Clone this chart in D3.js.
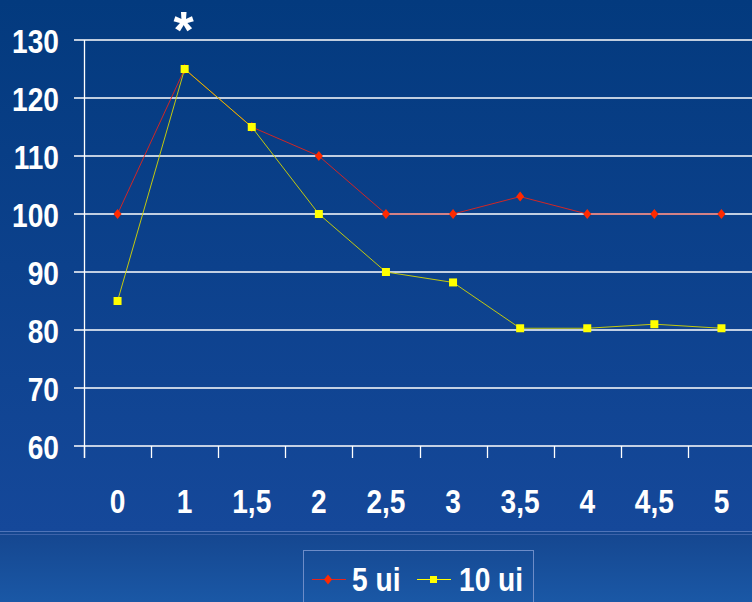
<!DOCTYPE html>
<html>
<head>
<meta charset="utf-8">
<script src="https://cdn.jsdelivr.net/npm/d3@7"></script>
<style>
  body { margin: 0; background: #0b4089; }
  svg { display: block; }
  .lbl text { fill: #fff; font-family: "Liberation Sans", Arial, sans-serif; font-weight: bold; font-size: 33.5px; }
  .lbl path.domain { display: none; }
</style>
</head>
<body>
<div id="chart"></div>
<script>
const categories = ["0", "1", "1,5", "2", "2,5", "3", "3,5", "4", "4,5", "5"]
const ui5 = [100, 125, 115, 110, 100, 100, 103, 100, 100, 100]
const ui10 = [85, 125, 115, 100, 90, 88.2, 80.3, 80.3, 81, 80.3]
const yTicks = [60, 70, 80, 90, 100, 110, 120, 130]
const seriesNames = ["5 ui", "10 ui"]

const W = 752, H = 602
const plot = {left: 84, right: 755, top: 40, bottom: 446}
// labels are in a narrow bold face, squeeze the text horizontally
const squeeze = 0.84

const svg = d3.select("#chart").append("svg")
  .attr("width", W)
  .attr("height", H)

// background
const defs = svg.append("defs")
const g1 = defs.append("linearGradient").attr("id", "bg1").attr("x1", 0).attr("x2", 0).attr("y1", 0).attr("y2", 1)
g1.append("stop").attr("offset", "0%").attr("stop-color", "#033a7e")
g1.append("stop").attr("offset", "100%").attr("stop-color", "#15489a")
const g2 = defs.append("linearGradient").attr("id", "bg2").attr("x1", 0).attr("x2", 0).attr("y1", 0).attr("y2", 1)
g2.append("stop").attr("offset", "0%").attr("stop-color", "#15468f")
g2.append("stop").attr("offset", "100%").attr("stop-color", "#1a58a6")

svg.append("rect").attr("width", W).attr("height", 531).attr("fill", "url(#bg1)")
svg.append("rect").attr("y", 531).attr("width", W).attr("height", H - 531).attr("fill", "url(#bg2)")
svg.append("line").attr("x1", 0).attr("x2", W).attr("y1", 531.5).attr("y2", 531.5).attr("stroke", "#4f74b8").attr("stroke-width", 1)
svg.append("line").attr("x1", 0).attr("x2", W).attr("y1", 534.5).attr("y2", 534.5).attr("stroke", "#3d63aa").attr("stroke-width", 1)

// scales
const x = d3.scaleBand().domain(categories).range([plot.left, plot.right]).padding(0)
const y = d3.scaleLinear().domain([60, 130]).range([plot.bottom, plot.top])

// gridlines
svg.append("g").selectAll("line")
  .data(yTicks)
  .enter().append("line")
  .attr("x1", plot.left - 10)
  .attr("x2", W)
  .attr("y1", d => y(d))
  .attr("y2", d => y(d))
  .attr("stroke", "#fff")
  .attr("stroke-width", 1.4)

// y axis line
svg.append("line")
  .attr("x1", plot.left + 0.5).attr("x2", plot.left + 0.5)
  .attr("y1", plot.top).attr("y2", plot.bottom + 12)
  .attr("stroke", "#fff").attr("stroke-width", 1.3)

// x ticks at category boundaries
svg.append("g").selectAll("line")
  .data(categories)
  .enter().append("line")
  .attr("x1", d => Math.round(x(d)) + 0.5)
  .attr("x2", d => Math.round(x(d)) + 0.5)
  .attr("y1", plot.bottom)
  .attr("y2", plot.bottom + 12)
  .attr("stroke", "#fff")
  .attr("stroke-width", 1.3)

// labels
const yAx = svg.append("g")
  .attr("class", "lbl")
  .attr("transform", "translate(" + plot.left + ",0)")
  .call(d3.axisLeft(y).tickValues(yTicks).tickSize(0).tickPadding(25))
yAx.selectAll("line").remove()
yAx.selectAll("text")
  .attr("x", -25 / squeeze)
  .attr("dy", "0.36em")
  .attr("transform", "scale(" + squeeze + ",1)")

const xAx = svg.append("g")
  .attr("class", "lbl")
  .attr("transform", "translate(0," + plot.bottom + ")")
  .call(d3.axisBottom(x).tickSize(0).tickPadding(43))
xAx.selectAll("line").remove()
xAx.selectAll("text")
  .attr("transform", "scale(" + squeeze + ",1)")

const cx = (d, i) => x(categories[i]) + x.bandwidth() / 2

const line = d3.line()
  .x((d, i) => cx(d, i))
  .y(d => y(d))

// 5 ui
svg.append("path")
  .datum(ui5)
  .attr("d", line)
  .attr("fill", "none")
  .attr("stroke", "#e8241a")
  .attr("stroke-width", 0.9)

svg.append("g").selectAll("path")
  .data(ui5)
  .enter().append("path")
  .attr("d", "M0,-5L4,0L0,5L-4,0Z")
  .attr("transform", (d, i) => "translate(" + cx(d, i) + "," + y(d) + ")")
  .attr("fill", "#ff2a00")

// 10 ui
svg.append("path")
  .datum(ui10)
  .attr("d", line)
  .attr("fill", "none")
  .attr("stroke", "#d8d800")
  .attr("stroke-width", 0.9)

svg.append("g").selectAll("rect")
  .data(ui10)
  .enter().append("rect")
  .attr("x", (d, i) => cx(d, i) - 4)
  .attr("y", d => y(d) - 4)
  .attr("width", 8)
  .attr("height", 8)
  .attr("fill", "#ffff00")

// asterisk
svg.append("text")
  .attr("x", cx(ui5[1], 1) - 1)
  .attr("y", 48)
  .attr("text-anchor", "middle")
  .attr("fill", "#fff")
  .style("font-family", "Liberation Sans, Arial, sans-serif")
  .style("font-weight", "bold")
  .style("font-size", "52px")
  .text("*")

// legend
const legend = svg.append("g")
legend.append("rect")
  .attr("x", 303.5).attr("y", 550.5)
  .attr("width", 230).attr("height", 70)
  .attr("fill", "none")
  .attr("stroke", "#6d8cc8")
  .attr("stroke-width", 1)

const lg = [
  {name: seriesNames[0], x: 312, color: "#e8241a", mark: "diamond", tx: 352},
  {name: seriesNames[1], x: 417, color: "#ffff00", mark: "square", tx: 459}
]
lg.forEach(d => {
  legend.append("line")
    .attr("x1", d.x).attr("x2", d.x + 34)
    .attr("y1", 579.5).attr("y2", 579.5)
    .attr("stroke", d.color).attr("stroke-width", 1)
  if (d.mark == "diamond") {
    legend.append("path")
      .attr("d", "M0,-5L4,0L0,5L-4,0Z")
      .attr("transform", "translate(" + (d.x + 16) + ",579.5)")
      .attr("fill", "#ff2a00")
  } else {
    legend.append("rect")
      .attr("x", d.x + 13).attr("y", 576)
      .attr("width", 7).attr("height", 7)
      .attr("fill", "#ffff00")
  }
  legend.append("text")
    .attr("x", d.tx / squeeze)
    .attr("y", 591)
    .attr("transform", "scale(" + squeeze + ",1)")
    .attr("fill", "#fff")
    .style("font-family", "Liberation Sans, Arial, sans-serif")
    .style("font-weight", "bold")
    .style("font-size", "33.5px")
    .text(d.name)
})
</script>
</body>
</html>
